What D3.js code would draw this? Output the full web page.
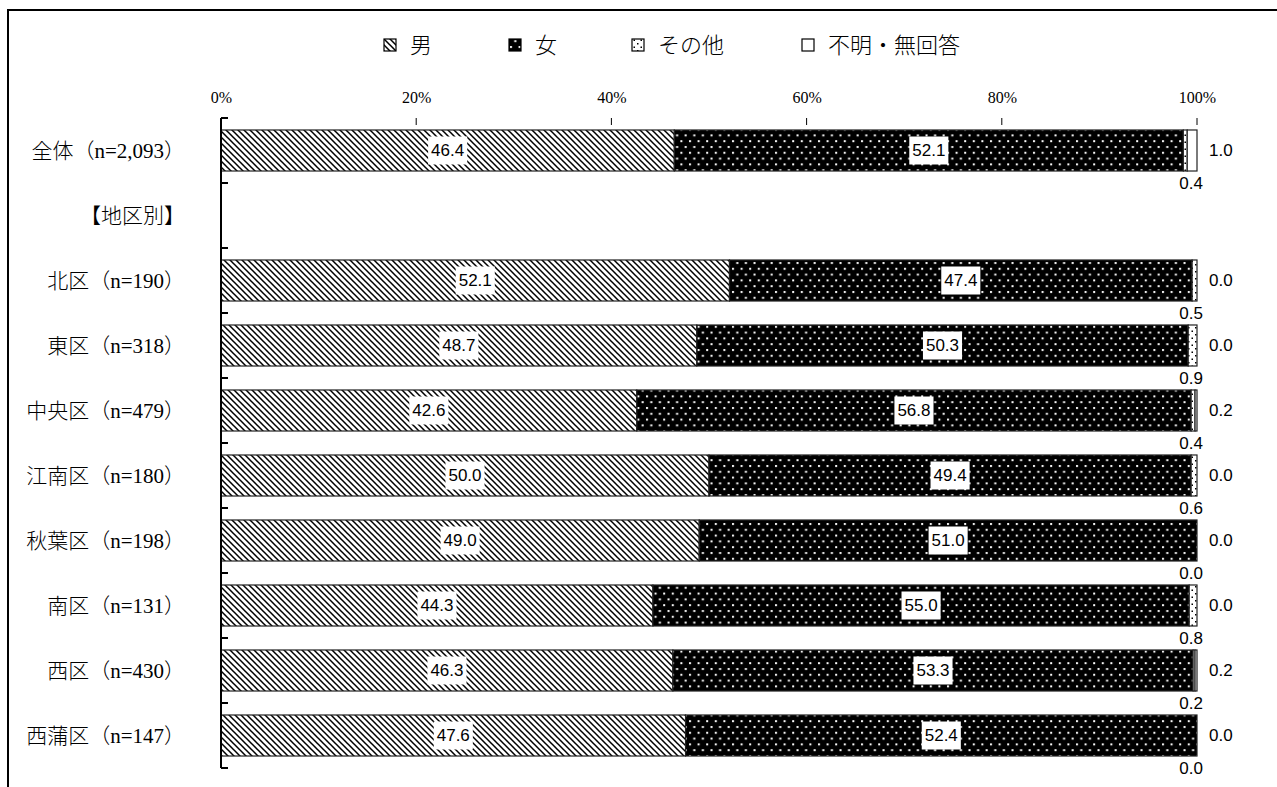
<!DOCTYPE html>
<html lang="ja">
<head>
<meta charset="utf-8">
<script src="https://cdn.jsdelivr.net/npm/d3@7"></script>
<style>
  html, body { margin: 0; padding: 0; background: #fff; }
  svg { display: block; }
</style>
</head>
<body>
<svg id="chart" width="1277" height="787"></svg>
<script>
// 性別構成（地区別）
const categories = ["全体（n=2,093）", "【地区別】", "北区（n=190）", "東区（n=318）", "中央区（n=479）",
  "江南区（n=180）", "秋葉区（n=198）", "南区（n=131）", "西区（n=430）", "西蒲区（n=147）"];
const seriesNames = ["男", "女", "その他", "不明・無回答"];
const male    = [46.4, null, 52.1, 48.7, 42.6, 50.0, 49.0, 44.3, 46.3, 47.6];
const female  = [52.1, null, 47.4, 50.3, 56.8, 49.4, 51.0, 55.0, 53.3, 52.4];
const other   = [0.4,  null, 0.5,  0.9,  0.4,  0.6,  0.0,  0.8,  0.2,  0.0];
const unknown = [1.0,  null, 0.0,  0.0,  0.2,  0.0,  0.0,  0.0,  0.2,  0.0];
const tickValues = [0, 0.2, 0.4, 0.6, 0.8, 1];

const svg = d3.select("#chart");
const defs = svg.append("defs");

// fill patterns
const pMale = defs.append("pattern").attr("id", "pat-male")
  .attr("patternUnits", "userSpaceOnUse").attr("width", 6).attr("height", 6);
pMale.append("rect").attr("width", 6).attr("height", 6).attr("fill", "#fff");
pMale.append("path").attr("d", "M-1,-1 L7,7 M-1,5 L1,7 M5,-1 L7,1")
  .attr("stroke", "#000").attr("stroke-width", 1.5).attr("fill", "none");

const pFemale = defs.append("pattern").attr("id", "pat-female")
  .attr("patternUnits", "userSpaceOnUse").attr("width", 8.6).attr("height", 11.6);
pFemale.append("rect").attr("width", 8.6).attr("height", 11.6).attr("fill", "#000");
pFemale.append("rect").attr("x", 1).attr("y", 1).attr("width", 2).attr("height", 2).attr("fill", "#fff");
pFemale.append("rect").attr("x", 5.3).attr("y", 6.8).attr("width", 2).attr("height", 2).attr("fill", "#fff");

const pOther = defs.append("pattern").attr("id", "pat-other")
  .attr("patternUnits", "userSpaceOnUse").attr("width", 7).attr("height", 7);
pOther.append("rect").attr("width", 7).attr("height", 7).attr("fill", "#fff");
pOther.append("rect").attr("x", 1.5).attr("y", 1.5).attr("width", 1.5).attr("height", 1.5).attr("fill", "#000");
pOther.append("rect").attr("x", 5).attr("y", 5).attr("width", 1.5).attr("height", 1.5).attr("fill", "#000");

const fills = {
  "男": "url(#pat-male)",
  "女": "url(#pat-female)",
  "その他": "url(#pat-other)",
  "不明・無回答": "#fff"
};

// outer frame
svg.append("path").attr("d", "M8,787 V10 H1277")
  .attr("fill", "none").attr("stroke", "#000").attr("stroke-width", 2);

// scales
const x = d3.scaleLinear().domain([0, 1]).range([221, 1197]);
const y = d3.scaleBand().domain(categories).range([118, 768])
  .paddingInner(0.369).paddingOuter(0.1845);

// rows that carry data
const rows = categories.map((c, i) => ({
  cat: c, "男": male[i], "女": female[i], "その他": other[i], "不明・無回答": unknown[i]
})).filter(r => r["男"] !== null);

const stacked = d3.stack().keys(seriesNames).offset(d3.stackOffsetExpand)(rows);

// top axis labels and small ticks
const topAxis = svg.append("g").attr("transform", "translate(0,118)")
  .call(d3.axisTop(x).tickValues(tickValues).tickFormat(d3.format(".0%")).tickSize(0).tickPadding(15));
topAxis.select(".domain").remove();
topAxis.selectAll("text").attr("font-family", "'Liberation Serif', 'Times New Roman', serif")
  .attr("font-size", 16).attr("fill", "#000");
svg.append("g").selectAll("line").data(tickValues).join("line")
  .attr("x1", d => x(d)).attr("x2", d => x(d)).attr("y1", 118).attr("y2", 125)
  .attr("stroke", "#000").attr("stroke-width", 1);

// bars
const layer = svg.append("g").selectAll("g").data(stacked).join("g")
  .attr("fill", d => fills[d.key]);
layer.selectAll("rect").data(d => d).join("rect")
  .attr("x", d => x(d[0]))
  .attr("y", d => y(d.data.cat))
  .attr("width", d => Math.max(0, x(d[1]) - x(d[0])))
  .attr("height", y.bandwidth())
  .attr("stroke", "#222").attr("stroke-width", 1.2);

// category axis (left) with ticks at band boundaries
const boundaries = d3.range(categories.length + 1).map(k => y.range()[0] + k * y.step());
svg.append("line").attr("x1", 221).attr("x2", 221)
  .attr("y1", boundaries[0]).attr("y2", boundaries[boundaries.length - 1])
  .attr("stroke", "#000").attr("stroke-width", 2);
svg.append("g").selectAll("line").data(boundaries).join("line")
  .attr("x1", 221).attr("x2", 228).attr("y1", d => d).attr("y2", d => d)
  .attr("stroke", "#000").attr("stroke-width", 2);

const labelSerif = "'Liberation Serif', 'Noto Sans CJK JP', serif";
svg.append("g").selectAll("text").data(categories).join("text")
  .attr("x", 185).attr("y", d => y(d) + y.bandwidth() / 2)
  .attr("text-anchor", "end").attr("dominant-baseline", "central")
  .attr("font-family", labelSerif).attr("font-weight", 300)
  .attr("font-size", 21).attr("fill", "#000")
  .text(d => d);

// value labels
const labelFont = "'Liberation Sans', Arial, sans-serif";
const inner = svg.append("g");
stacked.filter(s => s.key === "男" || s.key === "女").forEach(s => {
  s.forEach(d => {
    const cx = (x(d[0]) + x(d[1])) / 2;
    const cy = y(d.data.cat) + y.bandwidth() / 2;
    const g = inner.append("g");
    const t = g.append("text").attr("x", cx).attr("y", cy)
      .attr("text-anchor", "middle").attr("dominant-baseline", "central")
      .attr("font-family", labelFont).attr("font-size", 17).attr("fill", "#000")
      .text(d3.format(".1f")(d.data[s.key]));
    const bb = t.node().getBBox();
    g.insert("rect", "text").attr("x", bb.x - 3).attr("y", cy - 14)
      .attr("width", bb.width + 6).attr("height", 28).attr("fill", "#fff");
  });
});

// その他: below the bar, 不明・無回答: right of the bar
svg.append("g").selectAll("text").data(rows).join("text")
  .attr("x", x(1) + 6).attr("y", d => y(d.cat) + y.bandwidth() + 12)
  .attr("text-anchor", "end").attr("dominant-baseline", "central")
  .attr("font-family", labelFont).attr("font-size", 17).attr("fill", "#000")
  .text(d => d3.format(".1f")(d["その他"]));
svg.append("g").selectAll("text").data(rows).join("text")
  .attr("x", x(1) + 12).attr("y", d => y(d.cat) + y.bandwidth() / 2)
  .attr("text-anchor", "start").attr("dominant-baseline", "central")
  .attr("font-family", labelFont).attr("font-size", 17).attr("fill", "#000")
  .text(d => d3.format(".1f")(d["不明・無回答"]));

// legend
const legendX = [384, 509, 632, 802];
const legend = svg.append("g").selectAll("g").data(seriesNames).join("g")
  .attr("transform", (d, i) => `translate(${legendX[i]},45)`);
legend.append("rect").attr("x", 0).attr("y", -6).attr("width", 12).attr("height", 12)
  .attr("fill", d => fills[d]).attr("stroke", "#000").attr("stroke-width", 1.2);
legend.append("text").attr("x", 26).attr("y", 0).attr("dominant-baseline", "central")
  .attr("font-family", labelSerif).attr("font-weight", 300)
  .attr("font-size", 22).attr("fill", "#000")
  .text(d => d);
</script>
</body>
</html>
